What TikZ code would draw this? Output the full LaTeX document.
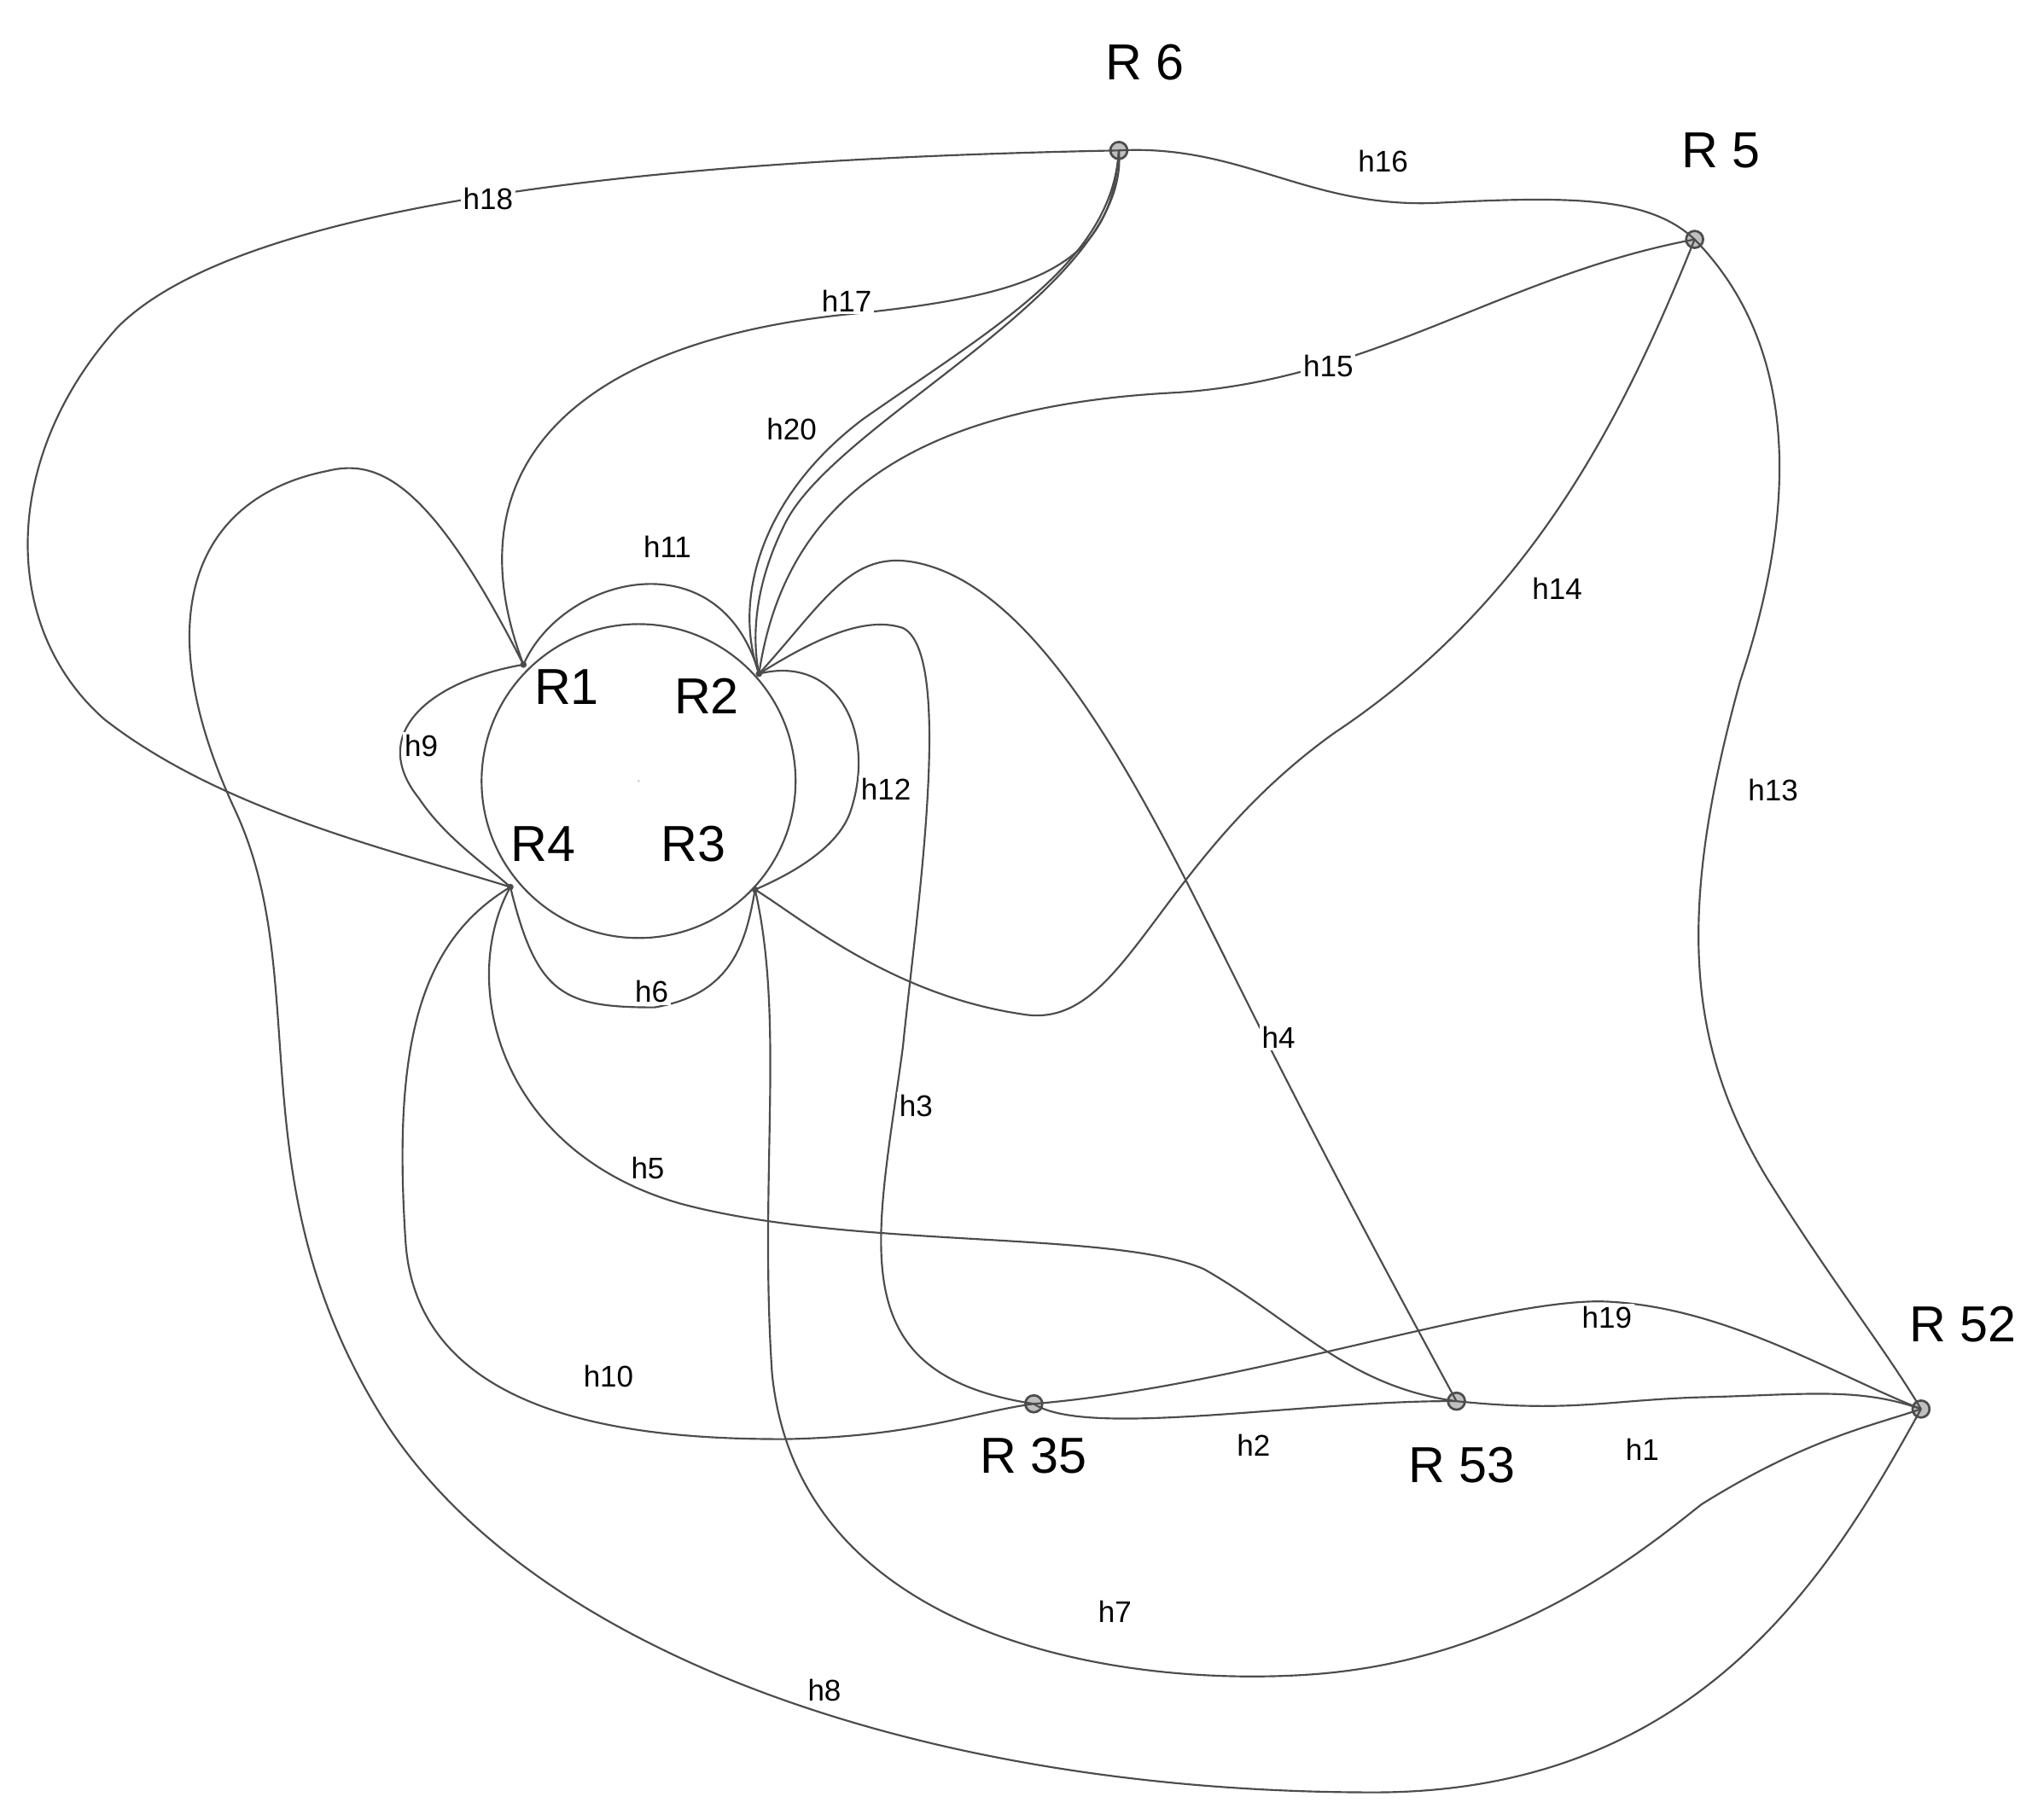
\documentclass[tikz,border=0pt]{standalone}
\usepackage{fontspec}
\setmainfont{Liberation Sans}
\begin{document}
\begin{tikzpicture}[x=0.02cm,y=-0.02cm,
 edge/.style={draw=black!70,line width=0.8pt},
 hub/.style={circle,draw=black!70,fill=black!25,line width=1pt,minimum size=0.26cm,inner sep=0},
 dot/.style={circle,fill=black!70,inner sep=0,minimum size=0.1cm},
 rl/.style={font=\fontsize{22}{24}\selectfont},
 hl/.style={font=\fontsize{13}{15}\selectfont,fill=white,inner sep=1pt}]
\useasboundingbox (0,0) rectangle (1562,1391);
\fill[white] (0,0) rectangle (1562,1391);
\draw[edge] (488,597) circle [radius=2.4cm];
\node[hub] (R6) at (855,115) {};
\node[hub] (R5) at (1295,183) {};
\node[hub] (R52) at (1468,1077) {};
\node[hub] (R35) at (790,1073) {};
\node[hub] (R53) at (1113,1071) {};
\node[dot] (R1) at (400,508) {};
\node[dot] (R2) at (580,515) {};
\node[dot] (R4) at (390,678) {};
\node[dot] (R3) at (577,680) {};
\node[rl] (lR6) at (875,48) {R 6};
\node[rl] (lR5) at (1315,115) {R 5};
\node[rl] (lR52) at (1500,1012) {R 52};
\node[rl] (lR35) at (790,1113) {R 35};
\node[rl] (lR53) at (1117,1120) {R 53};
\node[rl] (lR1) at (433,525) {R1};
\node[rl] (lR2) at (540,532) {R2};
\node[rl] (lR4) at (415,645) {R4};
\node[rl] (lR3) at (530,645) {R3};
\path[edge] (R6.center) .. controls (950,110) and (1000,160) .. (1100,155) .. controls (1200,150) and (1260,150) .. (R5.center);
\path[edge] (R6.center) .. controls (600,120) and (200,140) .. (90,250) .. controls (0,350) and (0,480) .. (80,550) .. controls (170,620) and (300,650) .. (R4.center);
\path[edge] (R6.center) .. controls (850,200) and (800,225) .. (650,240) .. controls (450,260) and (340,350) .. (R1.center);
\path[edge] (R6.center) .. controls (850,200) and (760,250) .. (660,320) .. controls (580,380) and (560,460) .. (R2.center);
\path[edge] (R6.center) .. controls (865,220) and (640,320) .. (600,400) .. controls (575,450) and (575,490) .. (R2.center);
\path[edge] (R5.center) .. controls (1150,210) and (1050,290) .. (900,300) .. controls (700,310) and (600,380) .. (R2.center);
\path[edge] (R5.center) .. controls (1240,320) and (1170,460) .. (1020,560) .. controls (880,660) and (860,790) .. (780,775) .. controls (680,760) and (610,700) .. (R3.center);
\path[edge] (R5.center) .. controls (1380,270) and (1370,400) .. (1330,520) .. controls (1280,700) and (1290,800) .. (1350,900) .. controls (1400,980) and (1440,1030) .. (R52.center);
\path[edge] (R53.center) .. controls (1200,1080) and (1230,1070) .. (1300,1068) .. controls (1380,1066) and (1420,1060) .. (R52.center);
\path[edge] (R35.center) .. controls (830,1100) and (1000,1070) .. (R53.center);
\path[edge] (R35.center) .. controls (950,1060) and (1150,990) .. (1230,995) .. controls (1320,1000) and (1400,1050) .. (R52.center);
\path[edge] (R2.center) .. controls (630,460) and (650,420) .. (700,430) .. controls (800,450) and (880,620) .. (950,760) .. controls (1020,900) and (1080,1010) .. (R53.center);
\path[edge] (R2.center) .. controls (620,490) and (660,470) .. (690,480) .. controls (730,500) and (700,700) .. (690,800) .. controls (670,950) and (640,1050) .. (R35.center);
\path[edge] (R1.center) .. controls (430,440) and (550,410) .. (R2.center);
\path[edge] (R1.center) .. controls (330,520) and (280,560) .. (320,610) .. controls (340,640) and (370,660) .. (R4.center);
\path[edge] (R2.center) .. controls (640,500) and (670,560) .. (650,620) .. controls (640,650) and (600,670) .. (R3.center);
\path[edge] (R4.center) .. controls (410,760) and (430,770) .. (500,770) .. controls (560,760) and (570,720) .. (R3.center);
\path[edge] (R4.center) .. controls (350,750) and (380,880) .. (520,920) .. controls (650,955) and (850,940) .. (920,970) .. controls (990,1010) and (1030,1060) .. (R53.center);
\path[edge] (R4.center) .. controls (320,720) and (300,800) .. (310,950) .. controls (320,1090) and (500,1100) .. (600,1100) .. controls (700,1098) and (740,1080) .. (R35.center);
\path[edge] (R3.center) .. controls (600,780) and (580,900) .. (590,1050) .. controls (610,1250) and (850,1290) .. (1000,1280) .. controls (1150,1270) and (1250,1190) .. (1300,1150) .. controls (1380,1100) and (1430,1090) .. (R52.center);
\path[edge] (R1.center) .. controls (330,370) and (290,350) .. (250,360) .. controls (150,380) and (110,470) .. (180,620) .. controls (240,750) and (180,900) .. (290,1080) .. controls (400,1260) and (700,1370) .. (1050,1370) .. controls (1300,1370) and (1400,1200) .. (R52.center);
\node[hl] (h16) at (1057,123) {h16};
\node[hl] (h18) at (373,152) {h18};
\node[hl] (h17) at (647,230) {h17};
\node[hl] (h20) at (605,328) {h20};
\node[hl] (h15) at (1015,280) {h15};
\node[hl] (h14) at (1190,450) {h14};
\node[hl] (h13) at (1355,604) {h13};
\node[hl] (h11) at (510,418) {h11};
\node[hl] (h9) at (322,570) {h9};
\node[hl] (h12) at (677,603) {h12};
\node[hl] (h6) at (498,758) {h6};
\node[hl] (h4) at (977,793) {h4};
\node[hl] (h3) at (700,845) {h3};
\node[hl] (h5) at (495,893) {h5};
\node[hl] (h19) at (1228,1007) {h19};
\node[hl] (h10) at (465,1052) {h10};
\node[hl] (h2) at (958,1105) {h2};
\node[hl] (h1) at (1255,1108) {h1};
\node[hl] (h7) at (852,1232) {h7};
\node[hl] (h8) at (630,1292) {h8};
\node[dot,fill=black!20,minimum size=0.04cm] (c) at (488,597) {};
\end{tikzpicture}
\end{document}
